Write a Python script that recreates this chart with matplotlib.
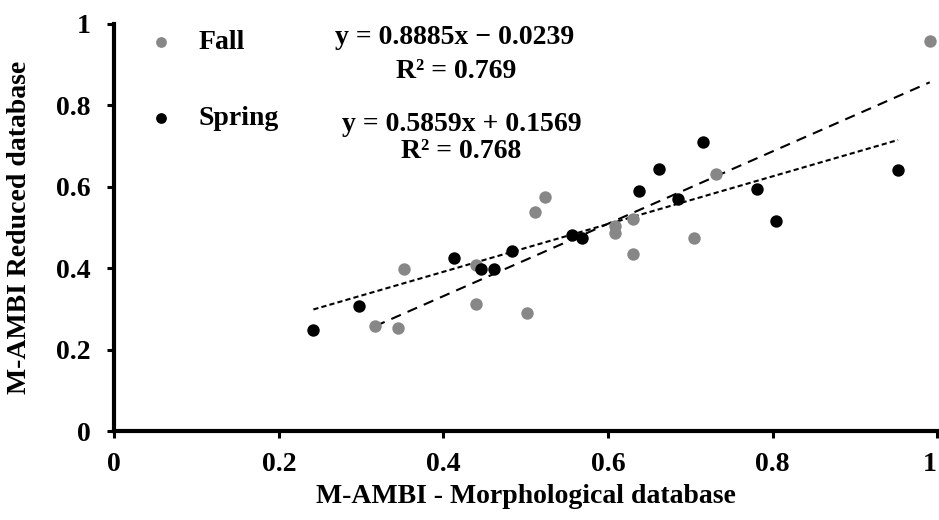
import numpy as np
import matplotlib
matplotlib.use("Agg")
import matplotlib.pyplot as plt

# Fall points (gray)
fall_x = [0.317, 0.345, 0.352, 0.439, 0.439, 0.502, 0.5115, 0.523, 0.608, 0.608,
          0.631, 0.630, 0.704, 0.7315, 0.991]
fall_y = [0.257, 0.252, 0.398, 0.409, 0.3115, 0.289, 0.537, 0.576, 0.503, 0.487,
          0.521, 0.436, 0.475, 0.631, 0.957]

# Spring points (black)
spring_x = [0.242, 0.2975, 0.4126, 0.446, 0.461, 0.483, 0.5565, 0.568, 0.6376, 0.662,
            0.685, 0.715, 0.781, 0.8045, 0.9525]
spring_y = [0.249, 0.307, 0.4246, 0.397, 0.399, 0.4426, 0.482, 0.4746, 0.589, 0.6435,
            0.569, 0.7106, 0.594, 0.517, 0.641]

# trendline coefficients as printed on the chart
fall_fit = (0.8885, -0.0239)
spring_fit = (0.5859, 0.1569)

xticks = [0, 0.2, 0.4, 0.6, 0.8, 1]
yticks = [0, 0.2, 0.4, 0.6, 0.8, 1]
tick_labels = ['0', '0.2', '0.4', '0.6', '0.8', '1']

plt.rcParams['font.family'] = ['Liberation Serif', 'DejaVu Serif']
plt.rcParams['font.weight'] = 'bold'
fs = 20

fig = plt.figure(figsize=(9.39, 5.2), dpi=100)
ax = fig.add_axes([0.1217, 0.171, 0.8763, 0.783])

gray = '#878787'
ax.scatter(fall_x, fall_y, s=80, color=gray, zorder=3, linewidths=0)
ax.scatter(spring_x, spring_y, s=80, color='black', zorder=3, linewidths=0)

# trendlines over the range of each series
fx = np.array([min(fall_x), max(fall_x)])
ax.plot(fx, fall_fit[0] * fx + fall_fit[1], color='black', lw=1.5,
        dashes=(5, 3.5), zorder=2)
sx = np.array([min(spring_x), max(spring_x)])
ax.plot(sx, spring_fit[0] * sx + spring_fit[1], color='black', lw=1.5,
        dashes=(2.5, 1.5), zorder=2)

ax.set_xlim(0, 1)
ax.set_ylim(0, 1)
ax.set_xticks(xticks)
ax.set_yticks(yticks)
ax.set_xticklabels(tick_labels)
ax.set_yticklabels(tick_labels)
ax.tick_params(direction='out', length=5, width=2.2, labelsize=fs)
ax.tick_params(axis='x', pad=10)
ax.tick_params(axis='y', pad=12)
# the last x label sits at the figure edge; nudge it inward a little
ax.get_xticklabels()[-1].set_horizontalalignment('right')

for side in ['top', 'right']:
    ax.spines[side].set_visible(False)
for side in ['left', 'bottom']:
    ax.spines[side].set_linewidth(3)

ax.set_xlabel('M-AMBI - Morphological database', fontsize=fs, fontweight='bold', labelpad=5)
ax.set_ylabel('M-AMBI Reduced database', fontsize=fs, fontweight='bold', labelpad=17)

# legend-like labels
ax.scatter([0.057], [0.955], s=60, color=gray, linewidths=0, clip_on=False)
ax.text(0.102, 0.955, 'Fall', fontsize=fs, fontweight='bold', va='center', ha='left')
ax.scatter([0.057], [0.768], s=60, color='black', linewidths=0, clip_on=False)
ax.text(0.102, 0.768, 'Spring', fontsize=fs, fontweight='bold', va='center', ha='left')

# equations
ax.text(0.414, 0.966, 'y = 0.8885x \u2212 0.0239', fontsize=fs, fontweight='bold',
        ha='center', va='center')
ax.text(0.416, 0.882, 'R\u00b2 = 0.769', fontsize=fs, fontweight='bold',
        ha='center', va='center')
ax.text(0.422, 0.752, 'y = 0.5859x + 0.1569', fontsize=fs, fontweight='bold',
        ha='center', va='center')
ax.text(0.422, 0.686, 'R\u00b2 = 0.768', fontsize=fs, fontweight='bold',
        ha='center', va='center')

fig.savefig('out.png', dpi=100)
